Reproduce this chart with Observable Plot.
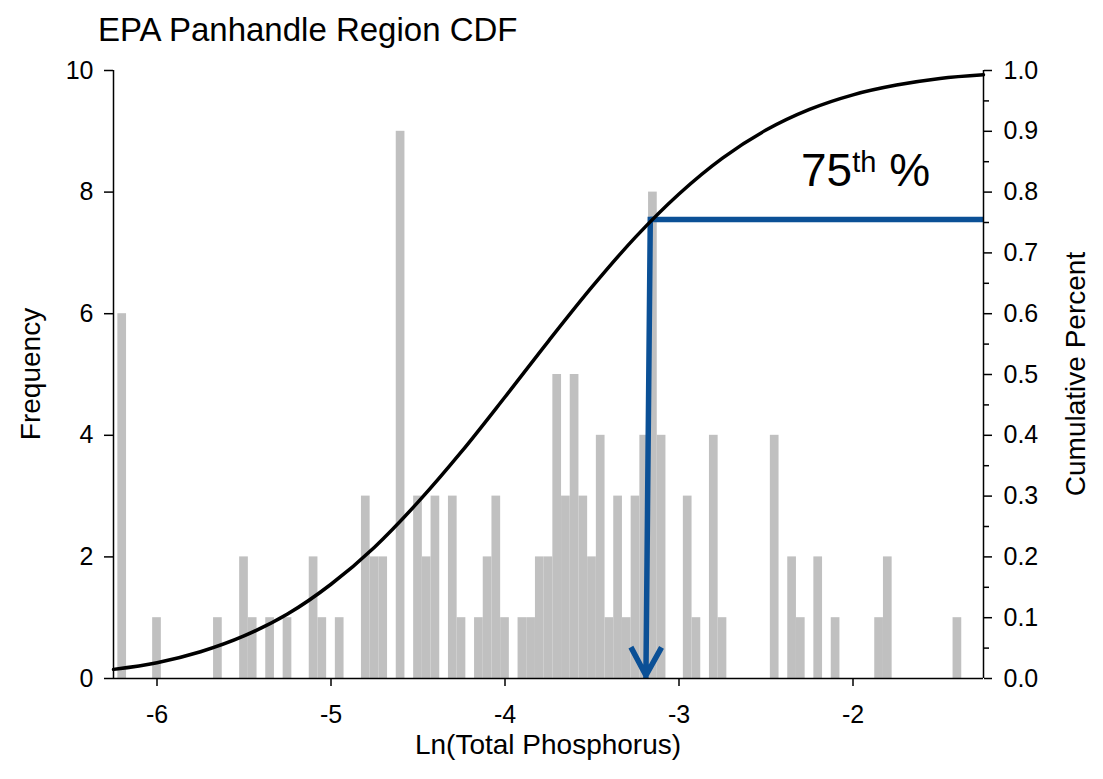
<!DOCTYPE html>
<html>
<head>
<meta charset="utf-8">
<script src="https://cdn.jsdelivr.net/npm/d3@7"></script>
<script src="https://cdn.jsdelivr.net/npm/@observablehq/plot@0.6"></script>
<style>
  html, body { margin: 0; padding: 0; background: #fff; }
  svg { display: block; }
</style>
</head>
<body>
<div id="chart"></div>
<script>
// ---- Data ----
const titleText = "EPA Panhandle Region CDF";
const xLabelText = "Ln(Total Phosphorus)";
const yLeftLabelText = "Frequency";
const yRightLabelText = "Cumulative Percent";

// histogram: bin centres (Ln TP) and their counts; bins are 0.05 wide
const binWidth = 0.05;
const binCenters = [
  -6.20, -6.00, -5.65, -5.50, -5.45, -5.35, -5.25, -5.10, -5.05, -4.95,
  -4.80, -4.75, -4.70, -4.60, -4.50, -4.45, -4.40, -4.30, -4.25, -4.15,
  -4.10, -4.05, -4.00, -3.90, -3.85, -3.80, -3.75, -3.70, -3.65, -3.60,
  -3.55, -3.50, -3.45, -3.40, -3.35, -3.30, -3.25, -3.20, -3.15, -3.10,
  -2.95, -2.90, -2.80, -2.75, -2.45, -2.35, -2.30, -2.20, -2.10, -1.85,
  -1.80, -1.40
];
const binCounts = [
  6, 1, 1, 2, 1, 1, 1, 2, 1, 1,
  3, 2, 2, 9, 3, 2, 3, 3, 1, 1,
  2, 3, 1, 1, 1, 2, 2, 5, 3, 5,
  3, 2, 4, 1, 3, 1, 3, 4, 8, 4,
  3, 1, 4, 1, 4, 2, 1, 2, 1, 1,
  2, 1
];

// cumulative curve (read points)
const cdfX = [-6.25, -6.00, -5.75, -5.50, -5.25, -5.00, -4.75, -4.50, -4.25, -4.00,
              -3.75, -3.50, -3.25, -3.00, -2.75, -2.50, -2.25, -2.00, -1.75, -1.50, -1.25];
const cdfY = [0.015, 0.026, 0.044, 0.070, 0.106, 0.155, 0.216, 0.290, 0.373, 0.463,
              0.555, 0.644, 0.726, 0.797, 0.856, 0.902, 0.936, 0.960, 0.976, 0.987, 0.993];

// 75th percentile marker
const p75Value = 0.755;       // cumulative level of the horizontal line
const p75XTop = -3.165;       // where it meets the curve
const p75XTip = -3.19;        // arrow tip on the axis
const p75TipLevel = 0.005;
const p75Label = ["75", "th", " %"];

// axes
const xDomain = [-6.25, -1.25];
const xTicks = [-6, -5, -4, -3, -2];
const freqDomain = [0, 10];
const freqTicks = [0, 2, 4, 6, 8, 10];
const pctTicks = [0.0, 0.1, 0.2, 0.3, 0.4, 0.5, 0.6, 0.7, 0.8, 0.9, 1.0];
const pctMinorTicks = [0.05, 0.15, 0.25, 0.35, 0.45, 0.55, 0.65, 0.75, 0.85, 0.95];

// ---- Build ----
const W = 1103, H = 779;
const FONT = "'Liberation Sans', Arial, Helvetica, sans-serif";
const BLUE = "#0b5096";
const pctScale = freqDomain[1]; // cumulative 0..1 mapped onto 0..10

const bars = binCenters.map((c, i) => ({x1: c - binWidth / 2, x2: c + binWidth / 2, n: binCounts[i]}));
const cdf = cdfX.map((x, i) => ({x, y: cdfY[i] * pctScale}));
const blueH = [{x: xDomain[1], y: p75Value * pctScale}, {x: p75XTop, y: p75Value * pctScale}];
const blueArrow = [{x1: p75XTop, y1: p75Value * pctScale, x2: p75XTip, y2: p75TipLevel * pctScale}];

const plot = Plot.plot({
  width: W,
  height: H,
  marginTop: 70,
  marginBottom: 101,
  marginLeft: 113,
  marginRight: 120,
  x: {domain: xDomain},
  y: {domain: freqDomain},
  style: {fontFamily: FONT, fontSize: "25px", color: "#000", background: "#fff"},
  marks: [
    Plot.rectY(bars, {x1: "x1", x2: "x2", y: "n", fill: "#c0c0c0"}),
    Plot.line(blueH, {x: "x", y: "y", stroke: BLUE, strokeWidth: 5.5, strokeLinecap: "butt"}),
    Plot.arrow(blueArrow, {x1: "x1", y1: "y1", x2: "x2", y2: "y2", stroke: BLUE, strokeWidth: 5.5, headLength: 8, headAngle: 57, strokeLinecap: "square"}),
    Plot.line(cdf, {x: "x", y: "y", stroke: "#000", strokeWidth: 3.5, curve: "monotone-x"}),
    Plot.ruleY([freqDomain[0]], {stroke: "#000", strokeWidth: 1.5}),
    Plot.ruleX(xDomain, {stroke: "#000", strokeWidth: 1.5}),
    Plot.axisX({ticks: xTicks, tickSize: 8, tickPadding: 19, tickFormat: d => String(d), label: null, strokeWidth: 1.5}),
    Plot.axisY({anchor: "left", ticks: freqTicks, tickSize: 9, tickPadding: 11, tickFormat: d => String(d), label: null, strokeWidth: 1.5}),
    Plot.axisY({anchor: "right", ticks: pctTicks.map(v => v * pctScale), tickSize: 8, tickPadding: 12,
                tickFormat: d => (d / pctScale).toFixed(1), label: null, strokeWidth: 1.5}),
    Plot.axisY({anchor: "right", ticks: pctMinorTicks.map(v => v * pctScale), tickSize: 5,
                tickFormat: () => "", label: null, strokeWidth: 1.5})
  ]
});

document.getElementById("chart").appendChild(plot);

const svg = d3.select(plot);
const xs = plot.scale("x"), ys = plot.scale("y");

// title
svg.append("text")
  .attr("x", 98).attr("y", 41)
  .attr("text-anchor", "start")
  .attr("font-family", FONT).attr("font-size", 33).attr("fill", "#000")
  .text(titleText);

// axis titles
const midY = (ys.apply(freqDomain[0]) + ys.apply(freqDomain[1])) / 2;
const midX = (xs.apply(xDomain[0]) + xs.apply(xDomain[1])) / 2;
svg.append("text")
  .attr("transform", `translate(40,${midY}) rotate(-90)`)
  .attr("text-anchor", "middle")
  .attr("font-family", FONT).attr("font-size", 28).attr("fill", "#000")
  .text(yLeftLabelText);
svg.append("text")
  .attr("transform", `translate(1085,${midY}) rotate(-90)`)
  .attr("text-anchor", "middle")
  .attr("font-family", FONT).attr("font-size", 28).attr("fill", "#000")
  .text(yRightLabelText);
svg.append("text")
  .attr("x", midX).attr("y", 754)
  .attr("text-anchor", "middle")
  .attr("font-family", FONT).attr("font-size", 28).attr("fill", "#000")
  .text(xLabelText);

// 75th % annotation
const ann = svg.append("text")
  .attr("x", 801).attr("y", 186)
  .attr("text-anchor", "start")
  .attr("font-family", FONT).attr("font-size", 46).attr("fill", "#000");
ann.append("tspan").text(p75Label[0]);
ann.append("tspan").attr("font-size", 29).attr("dy", -14).text(p75Label[1]);
ann.append("tspan").attr("dy", 14).text(p75Label[2]);
</script>
</body>
</html>
